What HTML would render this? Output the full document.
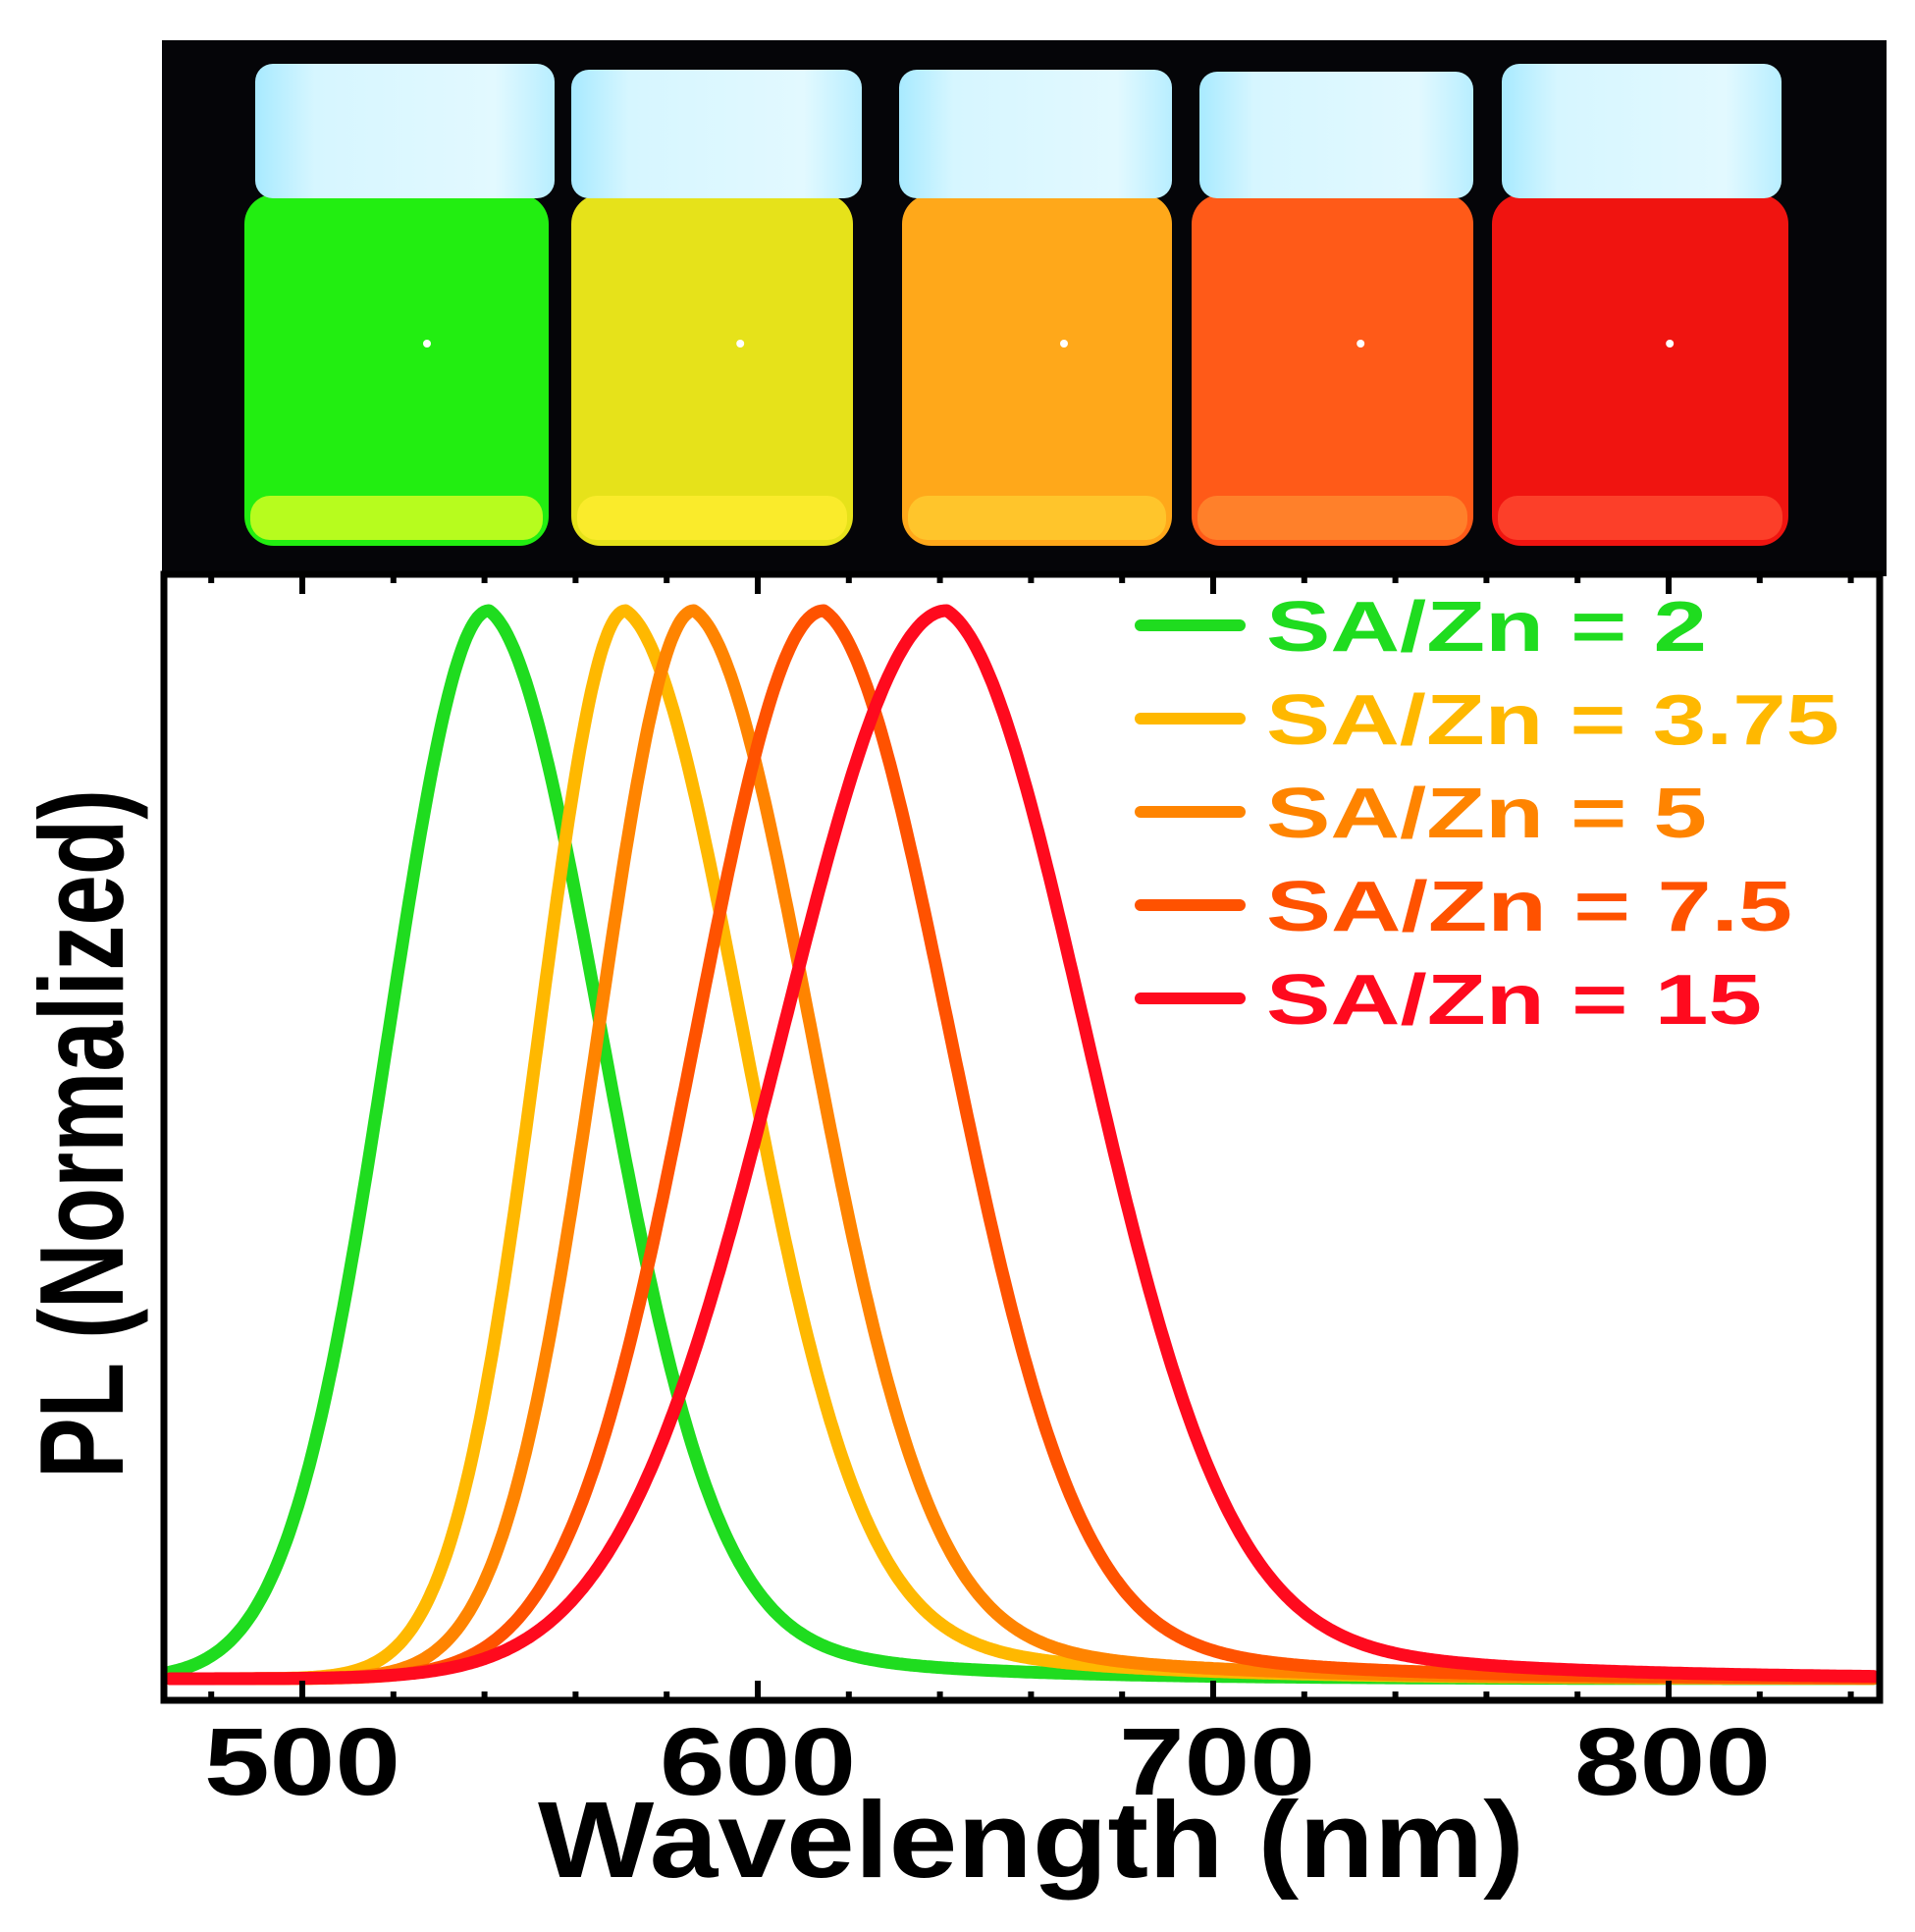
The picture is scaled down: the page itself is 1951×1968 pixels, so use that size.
<!DOCTYPE html>
<html><head><meta charset="utf-8"><style>
html,body{margin:0;padding:0;background:#fff;}
svg{display:block;}
</style></head><body>
<svg id="s" width="1951" height="1968" viewBox="0 0 1951 1968" xmlns="http://www.w3.org/2000/svg" font-family="Liberation Sans, Arial, sans-serif" font-weight="bold">
<defs>
<linearGradient id="cap" x1="0" x2="1" y1="0" y2="0">
<stop offset="0" stop-color="#a8eaff"/><stop offset="0.2" stop-color="#d6f6ff"/><stop offset="0.8" stop-color="#e2f9ff"/><stop offset="1" stop-color="#b8eeff"/>
</linearGradient>
</defs>
<rect x="165" y="41" width="1757" height="546" fill="#050508"/>
<g id="vials"></g>
<rect x="167" y="585" width="1748" height="1147" fill="#fff"/>
<g id="curves" fill="none" stroke-width="13" stroke-linejoin="round" stroke-linecap="round"></g>
<rect x="167" y="585" width="1748" height="1147" fill="none" stroke="#000" stroke-width="7"/>
<g id="ticks" stroke="#000" stroke-width="6"></g>
<g font-size="97" fill="#000" text-anchor="middle">
<text x="308" y="1828" textLength="200" lengthAdjust="spacingAndGlyphs">500</text>
<text x="772" y="1828" textLength="200" lengthAdjust="spacingAndGlyphs">600</text>
<text x="1240" y="1828" textLength="200" lengthAdjust="spacingAndGlyphs">700</text>
<text x="1704" y="1828" textLength="200" lengthAdjust="spacingAndGlyphs">800</text>
</g>
<text x="548" y="1912" font-size="110" fill="#000" textLength="1005" lengthAdjust="spacingAndGlyphs">Wavelength (nm)</text>
<text transform="translate(125,1506) rotate(-90)" x="0" y="0" font-size="122" fill="#000" textLength="702" lengthAdjust="spacingAndGlyphs">PL (Normalized)</text>
<g id="legend" font-size="72"></g>
</svg>
<script>
(function(){
var NS="http://www.w3.org/2000/svg";
function el(t,a,p){var e=document.createElementNS(NS,t);for(var k in a)e.setAttribute(k,a[k]);p.appendChild(e);return e;}
var V=document.getElementById("vials");
var vials=[
 {cx:260,cw:305,bx:249,bw:310,c:"#22ee11",b:"#ddff22",cy:65},
 {cx:582,cw:296,bx:582,bw:287,c:"#e6e21a",b:"#ffee30",cy:71},
 {cx:916,cw:278,bx:919,bw:275,c:"#ffa81a",b:"#ffcc30",cy:71},
 {cx:1222,cw:279,bx:1214,bw:287,c:"#ff5a18",b:"#ff8a30",cy:73},
 {cx:1530,cw:285,bx:1520,bw:302,c:"#f01410",b:"#ff4a30",cy:65}
];
vials.forEach(function(v){
 el("rect",{x:v.bx,y:198,width:v.bw,height:358,rx:30,fill:v.c},V);
 el("rect",{x:v.bx+6,y:505,width:v.bw-12,height:45,rx:20,fill:v.b,opacity:0.8},V);
 el("rect",{x:v.cx,y:v.cy,width:v.cw,height:202-v.cy,rx:18,fill:"url(#cap)"},V);
 el("circle",{cx:v.bx+v.bw*0.6,cy:350,r:4,fill:"#fff"},V);
});
function X(l){return 308+(l-500)*4.64;}
var base=1710, top=622, amp=base-top;
var S=[
 {p:541,sl:22,sr:25,a:0.12,t:40,c:"#1fdc1f"},
 {p:571,sl:19,sr:26,a:0.12,t:45,c:"#ffb800"},
 {p:586,sl:21,sr:26,a:0.12,t:45,c:"#ff8400"},
 {p:614.5,sl:28,sr:28,a:0.12,t:45,c:"#ff5200"},
 {p:641.5,sl:36,sr:31,a:0.13,t:50,c:"#ff0a1e"}
];
var C=document.getElementById("curves");
S.forEach(function(s){
 var d="";
 for(var l=471;l<=845;l+=0.5){
  var dd=l-s.p,f;
  if(dd<0)f=Math.exp(-dd*dd/(2*s.sl*s.sl));
  else f=(1-s.a)*Math.exp(-dd*dd/(2*s.sr*s.sr))+s.a*Math.exp(-dd/s.t);
  var y=base-f*amp;
  d+=(d?"L":"M")+X(l).toFixed(1)+","+y.toFixed(1);
 }
 el("path",{d:d,stroke:s.c},C);
});
var T=document.getElementById("ticks");
for(var l=480;l<=840;l+=20){
 var x=X(l),big=(l%100==0);
 var h=big?20:9;
 el("line",{x1:x,y1:1732,x2:x,y2:1732-h},T);
 el("line",{x1:x,y1:585,x2:x,y2:585+h},T);
}
var L=document.getElementById("legend");
var leg=[["SA/Zn = 2",449,"#1fdc1f",637],["SA/Zn = 3.75",584,"#ffb800",732],["SA/Zn = 5",449,"#ff8400",827],["SA/Zn = 7.5",536,"#ff5200",922],["SA/Zn = 15",505,"#ff0a1e",1017]];
leg.forEach(function(g){
 el("line",{x1:1162,y1:g[3],x2:1263,y2:g[3],stroke:g[2],"stroke-width":12,"stroke-linecap":"round"},L);
 var t=el("text",{x:1290,y:g[3]+26,fill:g[2],textLength:g[1],lengthAdjust:"spacingAndGlyphs"},L);
 t.textContent=g[0];
});
})();
</script>
</body></html>
